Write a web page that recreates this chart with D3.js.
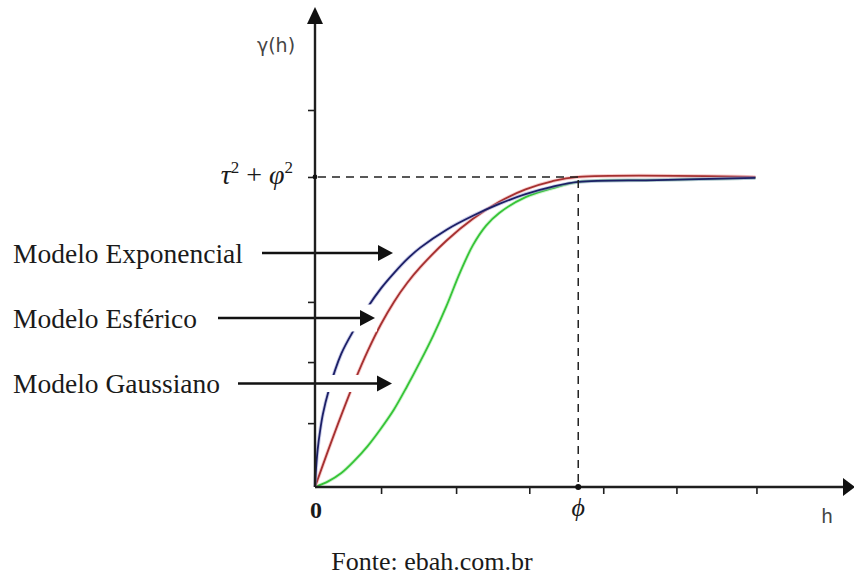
<!DOCTYPE html>
<html>
<head>
<meta charset="utf-8">
<script src="https://cdn.jsdelivr.net/npm/d3@7"></script>
<style>
  html, body { margin: 0; background: #fff; }
  svg { display: block; }
</style>
</head>
<body>
<svg id="chart" width="854" height="575"></svg>
<script>
// Semivariogram models: lag h (in units of the range φ) against γ(h) (in units of the sill τ² + φ²)
const modelNames = ["Modelo Exponencial", "Modelo Esférico", "Modelo Gaussiano"];

const expH = [0, 0.004, 0.01, 0.02, 0.03, 0.05, 0.1, 0.15, 0.2, 0.25, 0.3, 0.35, 0.4, 0.5, 0.6, 0.7, 0.8, 0.9, 1.0, 1.3, 1.673];
const expG = [0, 0.06, 0.12, 0.185, 0.235, 0.305, 0.43, 0.51, 0.58, 0.64, 0.69, 0.735, 0.772, 0.83, 0.875, 0.913, 0.945, 0.968, 0.984, 0.99, 0.997];

const sphH = [0, 0.05, 0.1, 0.15, 0.2, 0.25, 0.3, 0.35, 0.4, 0.5, 0.6, 0.7, 0.8, 0.9, 1.0, 1.673];
const sphG = [0, 0.118, 0.232, 0.34, 0.438, 0.524, 0.597, 0.658, 0.709, 0.795, 0.865, 0.92, 0.96, 0.986, 1.0, 1.0];

const gauH = [0, 0.05, 0.1, 0.15, 0.2, 0.25, 0.3, 0.35, 0.4, 0.45, 0.5, 0.55, 0.6, 0.65, 0.7, 0.8, 0.9, 1.0, 1.3, 1.673];
const gauG = [0, 0.018, 0.045, 0.085, 0.132, 0.188, 0.25, 0.325, 0.405, 0.49, 0.585, 0.69, 0.78, 0.843, 0.884, 0.935, 0.963, 0.984, 0.99, 0.997];

const rangePhi = 1.0;   // φ on the h axis
const sill = 1.0;       // τ² + φ² on the γ axis
const xTickValues = [0.251, 0.536, 0.814, 1.095, 1.373, 1.677];
const yTickValues = [0.206, 0.403, 0.597, 1.0, 1.216];

const svg = d3.select("#chart");

const x = d3.scaleLinear().domain([0, 2.04]).range([315, 852]);
const y = d3.scaleLinear().domain([0, 1.545]).range([487, 8]);

const zip = (hs, gs) => hs.map((h, i) => [h, gs[i]]);
const series = [
  { name: modelNames[2], pts: zip(gauH, gauG), core: "#36c437", halo: "#a6eaa6" },
  { name: modelNames[1], pts: zip(sphH, sphG), core: "#a53030", halo: "#f1a4a4" },
  { name: modelNames[0], pts: zip(expH, expG), core: "#1c1f66", halo: "#9aa0d6" }
];

const line = d3.line()
  .x(d => x(d[0]))
  .y(d => y(d[1]))
  .curve(d3.curveCatmullRom.alpha(0.5));

const curves = svg.append("g");
series.forEach(s => {
  curves.append("path").attr("d", line(s.pts))
    .attr("fill", "none").attr("stroke", s.halo).attr("stroke-width", 3.6).attr("opacity", 0.55);
  curves.append("path").attr("d", line(s.pts))
    .attr("fill", "none").attr("stroke", s.core).attr("stroke-width", 1.8);
});

// Legend label layout: text baseline, arrow row, arrow start and tip, backdrop half-height
const legendLayout = [
  { textY: 263, arrowY: 253, x0: 262, x1: 393, pad: 0 },
  { textY: 328, arrowY: 318, x0: 218, x1: 375, pad: 13.5 },
  { textY: 393, arrowY: 383.5, x0: 238, x1: 392, pad: 8.5 }
];

const legend = svg.append("g");
legendLayout.forEach(L => {
  if (L.pad > 0) {
    legend.append("rect")
      .attr("x", L.x0 - 4).attr("y", L.arrowY - L.pad)
      .attr("width", L.x1 - L.x0 + 6).attr("height", 2 * L.pad)
      .attr("fill", "#fff");
  }
});

// Axes
const axisColor = "#1e1e1e";
const axes = svg.append("g");

axes.append("g")
  .attr("transform", `translate(${x(0)},0)`)
  .call(d3.axisLeft(y).tickValues(yTickValues).tickFormat("").tickSizeInner(7).tickSizeOuter(0))
  .call(g => g.select(".domain").remove())
  .call(g => g.selectAll(".tick line").attr("stroke", axisColor).attr("stroke-width", 1.6));

axes.append("g")
  .attr("transform", `translate(0,${y(0)})`)
  .call(d3.axisBottom(x).tickValues(xTickValues).tickFormat("").tickSizeInner(7).tickSizeOuter(0))
  .call(g => g.select(".domain").remove())
  .call(g => g.selectAll(".tick line").attr("stroke", axisColor).attr("stroke-width", 1.6));

// axis lines with arrowheads
axes.append("line")
  .attr("x1", x(0)).attr("y1", y(0)).attr("x2", x(0)).attr("y2", y(1.545) + 12)
  .attr("stroke", axisColor).attr("stroke-width", 2.4);
axes.append("path")
  .attr("d", `M${x(0)},${y(1.545) - 1} L${x(0) - 8},${y(1.545) + 16} L${x(0) + 8},${y(1.545) + 16} Z`)
  .attr("fill", "#111");

axes.append("line")
  .attr("x1", x(0)).attr("y1", y(0)).attr("x2", x(2.04) - 8).attr("y2", y(0))
  .attr("stroke", axisColor).attr("stroke-width", 2.4);
axes.append("path")
  .attr("d", `M${x(2.04) + 3},${y(0)} L${x(2.04) - 9},${y(0) - 9} L${x(2.04) - 9},${y(0) + 9} Z`)
  .attr("fill", "#111");

// Reference lines at the sill and the range
const refs = svg.append("g").attr("stroke", "#222").attr("stroke-width", 1.5).attr("stroke-dasharray", "8,6");
refs.append("line")
  .attr("x1", x(0) + 3).attr("y1", y(sill)).attr("x2", x(rangePhi)).attr("y2", y(sill));
refs.append("line")
  .attr("x1", x(rangePhi)).attr("y1", y(sill) + 3).attr("x2", x(rangePhi)).attr("y2", y(0));
svg.append("circle").attr("cx", x(0)).attr("cy", y(sill)).attr("r", 2.4).attr("fill", "#111");
svg.append("circle").attr("cx", x(rangePhi)).attr("cy", y(0)).attr("r", 3).attr("fill", "#111");

// Legend arrows and labels
legendLayout.forEach((L, i) => {
  legend.append("line")
    .attr("x1", L.x0).attr("y1", L.arrowY).attr("x2", L.x1 - 12).attr("y2", L.arrowY)
    .attr("stroke", "#111").attr("stroke-width", 2.4);
  legend.append("path")
    .attr("d", `M${L.x1},${L.arrowY} L${L.x1 - 15},${L.arrowY - 8} L${L.x1 - 15},${L.arrowY + 8} Z`)
    .attr("fill", "#111");
  legend.append("text")
    .attr("x", 13).attr("y", L.textY)
    .attr("font-family", "'Liberation Serif', 'Times New Roman', serif")
    .attr("font-size", 27.5).attr("fill", "#1a1a1a")
    .text(modelNames[i]);
});

// Axis annotations
svg.append("text")
  .attr("x", 276).attr("y", 52).attr("text-anchor", "middle")
  .attr("font-family", "'DejaVu Sans', sans-serif")
  .attr("font-size", 19).attr("fill", "#444")
  .text("γ(h)");

const sillLabel = svg.append("text")
  .attr("x", 293).attr("y", 184).attr("text-anchor", "end")
  .attr("font-family", "'Liberation Serif', 'Times New Roman', serif")
  .attr("font-size", 28).attr("fill", "#1a1a1a");
sillLabel.append("tspan").attr("font-style", "italic").text("τ");
sillLabel.append("tspan").attr("font-size", 17).attr("dy", -11).text("2");
sillLabel.append("tspan").attr("dy", 11).text(" + ");
sillLabel.append("tspan").attr("font-style", "italic").text("φ");
sillLabel.append("tspan").attr("font-size", 17).attr("dy", -11).text("2");

svg.append("text")
  .attr("x", x(0) + 1).attr("y", 518).attr("text-anchor", "middle")
  .attr("font-family", "'Liberation Serif', 'Times New Roman', serif")
  .attr("font-size", 24).attr("font-weight", "bold").attr("fill", "#1a1a1a")
  .text("0");

svg.append("text")
  .attr("x", x(rangePhi)).attr("y", 516).attr("text-anchor", "middle")
  .attr("font-family", "'Liberation Serif', 'Times New Roman', serif")
  .attr("font-size", 26).attr("font-style", "italic").attr("fill", "#1a1a1a")
  .text("ϕ");

svg.append("text")
  .attr("x", 827).attr("y", 523).attr("text-anchor", "middle")
  .attr("font-family", "'Liberation Sans', Arial, sans-serif")
  .attr("font-size", 20).attr("fill", "#444")
  .text("h");

svg.append("text")
  .attr("x", 432).attr("y", 570).attr("text-anchor", "middle")
  .attr("font-family", "'Liberation Serif', 'Times New Roman', serif")
  .attr("font-size", 26).attr("fill", "#1a1a1a")
  .text("Fonte: ebah.com.br");
</script>
</body>
</html>
